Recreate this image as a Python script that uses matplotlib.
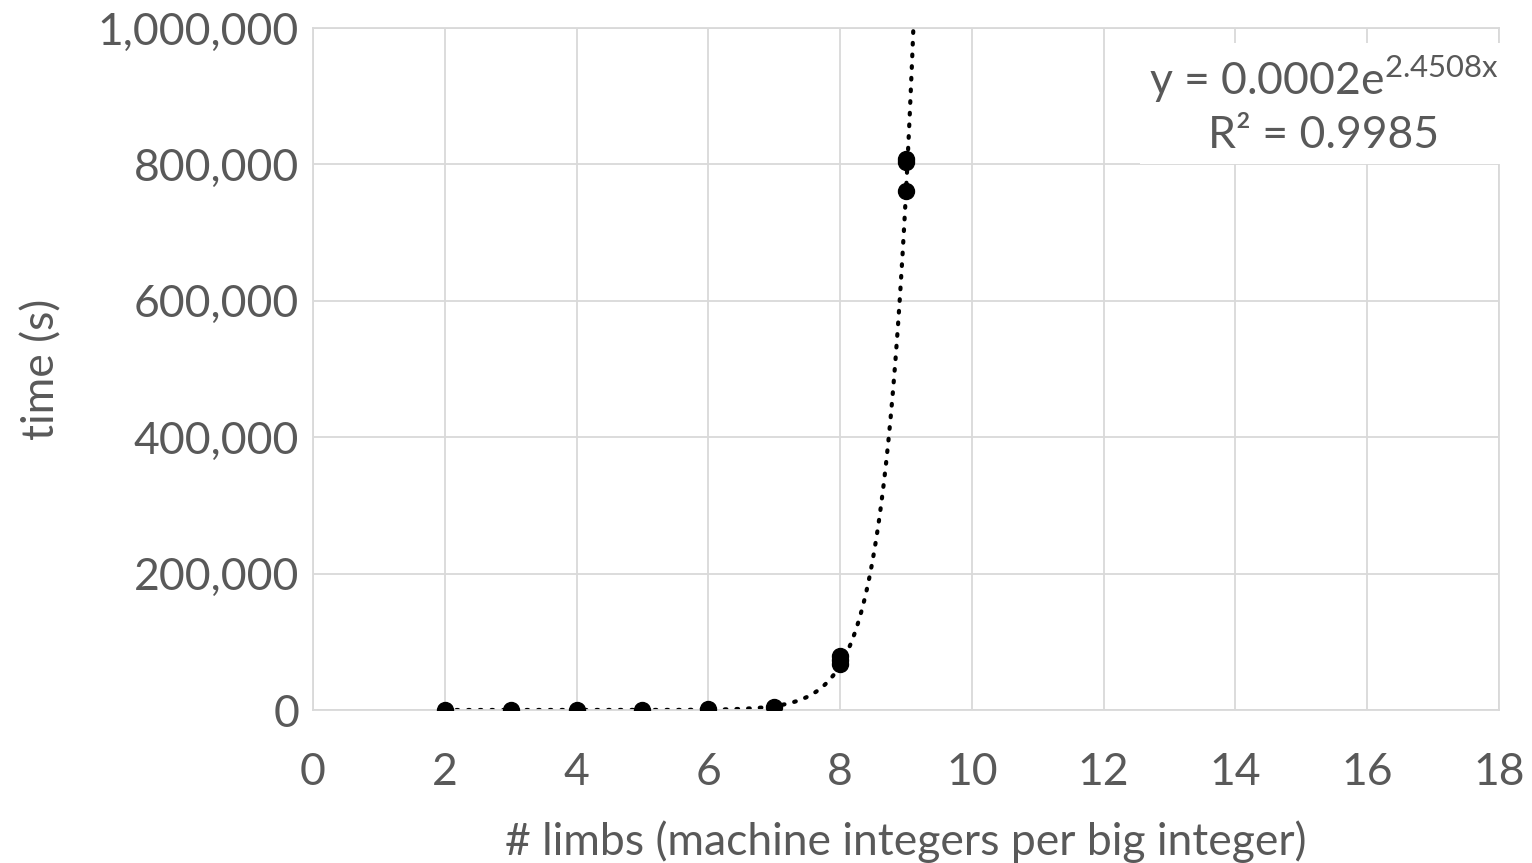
import matplotlib.pyplot as plt
import numpy as np

# measured run times per limb count
limbs = [2, 3, 4, 5, 6, 7, 8, 8, 8, 9, 9, 9]
times = [1, 5, 30, 150, 800, 5000, 68000, 73000, 79000, 761000, 803000, 808000]

# exponential trendline y = a * e^(b x)
fit_a = 0.0002
fit_b = 2.4508
r2 = 0.9985

xticks = np.arange(0, 19, 2)
yticks = np.arange(0, 1000001, 200000)

grey = "#595959"
gridc = "#d9d9d9"
plt.rcParams['font.family'] = ['Lato', 'DejaVu Sans']
fs = 32

fig = plt.figure(figsize=(15.32, 8.63), dpi=100)
ax = fig.add_axes([313/1532, 1 - 710/863, (1499-313)/1532, (710-28)/863])

xt = np.linspace(2, 9.2, 400)
ax.plot(xt, fit_a * np.exp(fit_b * xt), color="black", linestyle=(0, (0.4, 2.4)),
        linewidth=3, dash_capstyle="round", zorder=2)
ax.plot(limbs, times, "o", color="black", markersize=11.5, zorder=3)

ax.set_xlim(0, 18)
ax.set_ylim(0, 1000000)
ax.set_xticks(xticks)
ax.set_yticks(yticks)
ax.set_yticklabels([f"{v:,}" for v in yticks])
ax.grid(True, color=gridc, linewidth=1.3)
ax.set_axisbelow(True)
for s in ax.spines.values():
    s.set_color(gridc)
    s.set_linewidth(1.3)
ax.tick_params(length=0, labelsize=fs, colors=grey)
ax.tick_params(axis="y", pad=10)
ax.tick_params(axis="x", pad=30)

ax.set_xlabel("# limbs (machine integers per big integer)", fontsize=fs, color=grey, labelpad=20)
ax.set_ylabel("time (s)", fontsize=fs, color=grey, va="center")
ax.yaxis.set_label_coords(-0.2285, 0.5)

ax.text(0.852, 0.962, "y = 0.0002e$^{\\mathregular{2.4508x}}$\nR² = 0.9985",
        transform=ax.transAxes, ha="center", va="top", fontsize=fs, color=grey,
        linespacing=1.3, multialignment="center",
        bbox=dict(facecolor="white", edgecolor="none", pad=6), zorder=4)

fig.savefig("out.png", dpi=100)
